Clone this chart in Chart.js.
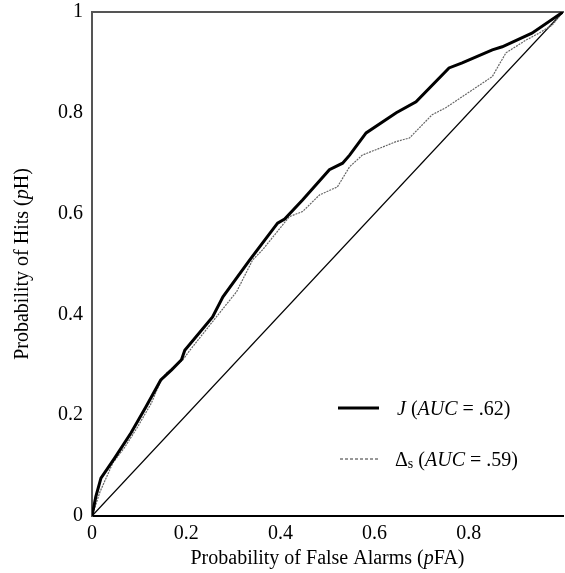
<!DOCTYPE html>
<html>
<head>
<meta charset="utf-8">
<script src="https://cdn.jsdelivr.net/npm/chart.js@4/dist/chart.umd.min.js"></script>
<style>
  html, body { margin: 0; padding: 0; background: #fff; }
  #roc { display: block; }
</style>
</head>
<body>
<canvas id="roc" width="565" height="573"></canvas>
<script>
// ROC curves
var xTicks = [0, 0.2, 0.4, 0.6, 0.8];
var yTicks = [0, 0.2, 0.4, 0.6, 0.8, 1];

var jFA = [0, 0.008, 0.019, 0.048, 0.083, 0.114, 0.146, 0.169, 0.190, 0.197, 0.256, 0.278, 0.335, 0.394, 0.409, 0.447, 0.504, 0.532, 0.547, 0.582, 0.646, 0.688, 0.758, 0.786, 0.850, 0.871, 0.934, 1];
var jH  = [0, 0.038, 0.075, 0.115, 0.165, 0.216, 0.270, 0.290, 0.310, 0.329, 0.395, 0.435, 0.508, 0.581, 0.589, 0.627, 0.687, 0.700, 0.716, 0.760, 0.800, 0.822, 0.889, 0.899, 0.925, 0.931, 0.958, 1];

var dFA = [0, 0.017, 0.044, 0.070, 0.097, 0.126, 0.144, 0.158, 0.193, 0.208, 0.264, 0.307, 0.341, 0.362, 0.419, 0.447, 0.483, 0.521, 0.547, 0.574, 0.646, 0.674, 0.722, 0.751, 0.807, 0.850, 0.864, 0.879, 0.921, 0.949, 0.977, 1];
var dH  = [0, 0.048, 0.105, 0.137, 0.177, 0.224, 0.264, 0.284, 0.310, 0.329, 0.395, 0.445, 0.508, 0.528, 0.594, 0.604, 0.637, 0.653, 0.693, 0.716, 0.743, 0.750, 0.796, 0.810, 0.845, 0.872, 0.895, 0.919, 0.944, 0.958, 0.974, 1];

var chanceFA = [0, 1];
var chanceH  = [0, 1];

var legendJ = { name: 'J', auc: '.62' };
var legendD = { name: '\u0394', sub: 's', auc: '.59' };

var SERIF = '"Liberation Serif", "Times New Roman", serif';

function toPoints(xs, ys) {
  return xs.map(function(x, i) { return { x: x, y: ys[i] }; });
}

function fmt(v) {
  return String(Math.round(v * 10) / 10);
}

// draws a list of [text, style, size, dy] pieces left to right
function drawPieces(ctx, pieces, x, y) {
  pieces.forEach(function(p) {
    ctx.font = (p[1] || '') + ' ' + (p[2] || 20) + 'px ' + SERIF;
    ctx.fillText(p[0], x, y + (p[3] || 0));
    x += ctx.measureText(p[0]).width;
  });
  return x;
}

function piecesWidth(ctx, pieces) {
  var w = 0;
  pieces.forEach(function(p) {
    ctx.font = (p[1] || '') + ' ' + (p[2] || 20) + 'px ' + SERIF;
    w += ctx.measureText(p[0]).width;
  });
  return w;
}

var decorations = {
  id: 'decorations',
  afterDraw: function(chart) {
    var ctx = chart.ctx;
    var area = chart.chartArea;
    ctx.save();
    ctx.fillStyle = '#000';
    ctx.textBaseline = 'alphabetic';

    // axis titles
    var xTitle = [['Probability of False Alarms ('], ['p', 'italic'], ['FA)']];
    var w = piecesWidth(ctx, xTitle);
    drawPieces(ctx, xTitle, (area.left + area.right) / 2 - w / 2, 564);

    var yTitle = [['Probability of Hits ('], ['p', 'italic'], ['H)']];
    ctx.save();
    ctx.translate(28, (area.top + area.bottom) / 2);
    ctx.rotate(-Math.PI / 2);
    w = piecesWidth(ctx, yTitle);
    drawPieces(ctx, yTitle, -w / 2, 0);
    ctx.restore();

    // legend
    var lx = area.right - 225;
    var y1 = area.bottom - 108;
    var y2 = area.bottom - 57;

    ctx.strokeStyle = '#000';
    ctx.lineWidth = 3;
    ctx.beginPath();
    ctx.moveTo(lx, y1);
    ctx.lineTo(lx + 41, y1);
    ctx.stroke();

    ctx.lineWidth = 1;
    ctx.strokeStyle = '#333';
    ctx.setLineDash([3, 2]);
    ctx.beginPath();
    ctx.moveTo(lx + 2, y2);
    ctx.lineTo(lx + 41, y2);
    ctx.stroke();
    ctx.setLineDash([]);

    drawPieces(ctx, [[legendJ.name, 'italic'], [' ('], ['AUC', 'italic'], [' = ' + legendJ.auc + ')']], lx + 59, y1 + 7);
    drawPieces(ctx, [[legendD.name], [legendD.sub, '', 14, 2], [' ('], ['AUC', 'italic'], [' = ' + legendD.auc + ')']], lx + 57, y2 + 7);

    ctx.restore();
  }
};

var tickFont = { family: SERIF, size: 20 };

new Chart(document.getElementById('roc'), {
  type: 'line',
  data: {
    datasets: [{
      label: 'J',
      data: toPoints(jFA, jH),
      borderColor: '#000',
      borderWidth: 3,
      pointRadius: 0,
      tension: 0,
      fill: false
    }, {
      label: 'Delta s',
      data: toPoints(dFA, dH),
      borderColor: '#666',
      borderWidth: 1.2,
      borderDash: [2, 1],
      pointRadius: 0,
      tension: 0,
      fill: false
    }, {
      label: 'chance',
      data: toPoints(chanceFA, chanceH),
      borderColor: '#000',
      borderWidth: 1.2,
      pointRadius: 0,
      tension: 0,
      fill: false
    }]
  },
  options: {
    responsive: false,
    animation: false,
    devicePixelRatio: 1,
    layout: { padding: { top: 12, right: 2, bottom: 0, left: 0 } },
    plugins: {
      legend: { display: false },
      tooltip: { enabled: false }
    },
    scales: {
      x: {
        type: 'linear',
        position: 'bottom',
        min: 0,
        max: 1,
        grid: { display: false, drawTicks: false },
        border: { color: '#000', width: 2 },
        afterBuildTicks: function(scale) {
          scale.ticks = xTicks.map(function(v) { return { value: v }; });
        },
        afterFit: function(scale) { scale.height = 57; },
        ticks: {
          font: tickFont,
          color: '#000',
          padding: 6,
          maxRotation: 0,
          callback: function(v) { return fmt(v); }
        }
      },
      xTop: {
        type: 'linear',
        position: 'top',
        min: 0,
        max: 1,
        grid: { display: false, drawTicks: false },
        border: { color: '#555', width: 2 },
        ticks: { display: false },
        afterFit: function(scale) { scale.height = 0; }
      },
      y: {
        type: 'linear',
        min: 0,
        max: 1,
        grid: { display: false, drawTicks: false },
        border: { color: '#555', width: 2 },
        afterBuildTicks: function(scale) {
          scale.ticks = yTicks.map(function(v) { return { value: v }; });
        },
        afterFit: function(scale) {
          scale.width = 92;
          scale.paddingTop = 0;
          scale.paddingBottom = 0;
        },
        ticks: {
          font: tickFont,
          color: '#000',
          padding: 9,
          callback: function(v) { return fmt(v); }
        }
      }
    }
  },
  plugins: [decorations]
});
</script>
</body>
</html>
